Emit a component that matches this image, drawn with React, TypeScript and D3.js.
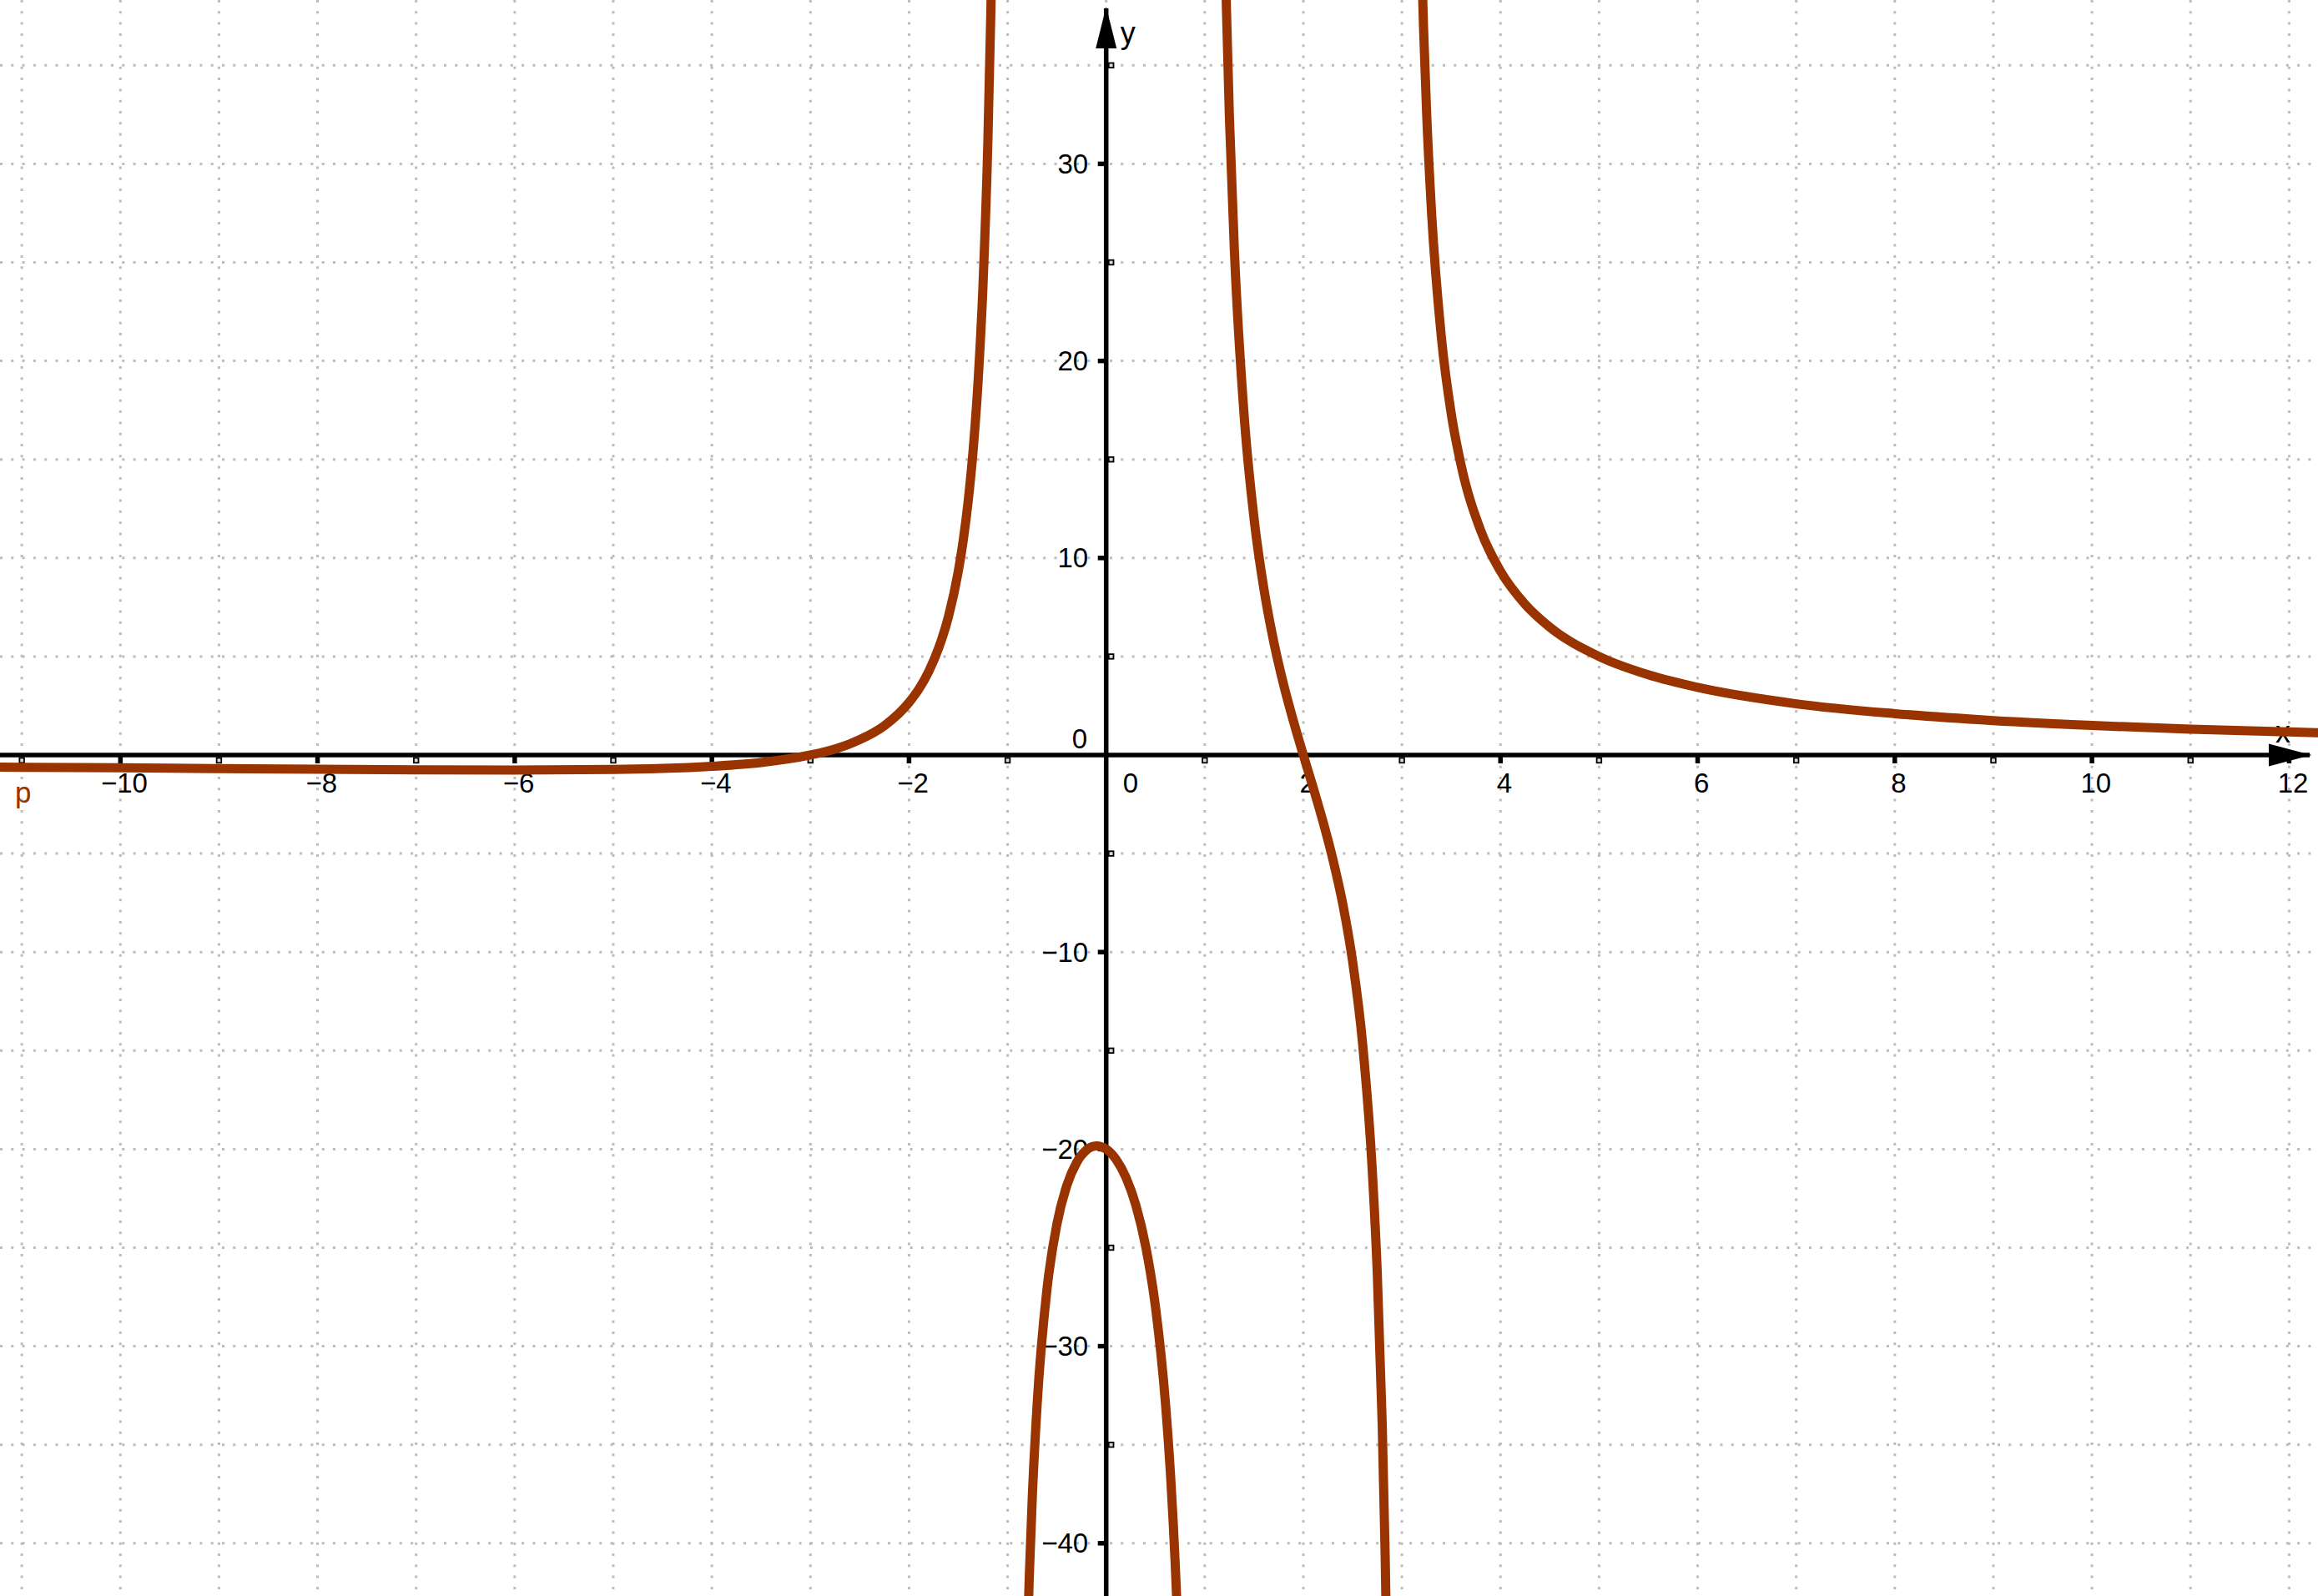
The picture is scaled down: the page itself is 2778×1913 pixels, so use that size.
import React from 'react';
import * as d3 from 'd3';

const width = 2778;
const height = 1913;

// p(x) (between the vertical asymptotes)
const branchLeft: [number, number][] = [
  [-11.3, -0.61], [-11, -0.62], [-10, -0.65], [-9, -0.69], [-8, -0.72], [-7, -0.75],
  [-6, -0.76], [-5, -0.73], [-4.5, -0.68], [-4, -0.57], [-3.5, -0.38], [-3, 0],
  [-2.75, 0.31], [-2.5, 0.78], [-2.25, 1.49], [-2, 2.67], [-1.9, 3.35], [-1.8, 4.24],
  [-1.7, 5.42], [-1.6, 7.02], [-1.5, 9.33], [-1.45, 10.9], [-1.4, 12.88], [-1.35, 15.45],
  [-1.3, 18.91], [-1.25, 23.79], [-1.2, 31.17], [-1.17, 37.71], [-1.15, 43.54],
];

const branchHump: [number, number][] = [
  [-0.85, -57.35], [-0.82, -49.12], [-0.8, -45.03], [-0.78, -41.69], [-0.75, -37.71],
  [-0.7, -32.91], [-0.6, -27.08], [-0.5, -23.81], [-0.4, -21.85], [-0.3, -20.68],
  [-0.2, -20.05], [-0.1, -19.84], [0, -20], [0.1, -20.52], [0.2, -21.43], [0.3, -22.83],
  [0.4, -24.91], [0.5, -28.0], [0.6, -32.81], [0.65, -36.31], [0.7, -41.01],
  [0.72, -43.37], [0.75, -47.62],
];

const branchMiddle: [number, number][] = [
  [1.15, 59.1], [1.18, 47.99], [1.2, 42.42], [1.22, 37.86], [1.25, 32.38], [1.3, 25.66],
  [1.4, 17.19], [1.5, 12.0], [1.6, 8.43], [1.7, 5.74], [1.8, 3.57], [1.9, 1.71], [2, 0],
  [2.1, -1.66], [2.2, -3.39], [2.3, -5.3], [2.4, -7.56], [2.5, -10.48], [2.6, -14.58],
  [2.7, -21.14], [2.75, -26.29], [2.8, -33.92], [2.83, -40.61], [2.85, -46.54],
];

const branchRight: [number, number][] = [
  [3.15, 52.84], [3.18, 44.46], [3.2, 40.26], [3.22, 36.82], [3.25, 32.68], [3.3, 27.6],
  [3.4, 21.21], [3.5, 17.33], [3.6, 14.72], [3.8, 11.38], [4, 9.33], [4.25, 7.65],
  [4.5, 6.49], [5, 5.0], [5.5, 4.07], [6, 3.43], [7, 2.6], [8, 2.1], [9, 1.75],
  [10, 1.5], [11, 1.31], [12, 1.17], [12.4, 1.12],
];

const branches = [branchLeft, branchHump, branchMiddle, branchRight];

const xGridValues = [-11, -10, -9, -8, -7, -6, -5, -4, -3, -2, -1, 0, 1, 2, 3, 4, 5, 6, 7, 8, 9, 10, 11, 12];
const yGridValues = [-40, -35, -30, -25, -20, -15, -10, -5, 0, 5, 10, 15, 20, 25, 30, 35];
const xTickLabels = [-10, -8, -6, -4, -2, 2, 4, 6, 8, 10, 12];
const yTickLabels = [-40, -30, -20, -10, 10, 20, 30];

const curveColor = '#993300';
const gridColor = '#bcbcbc';

export default function App() {
  const x = d3.scaleLinear().domain([-11.2214, 12.293]).range([0, width]);
  const y = d3.scaleLinear().domain([38.315, -42.676]).range([0, height]);
  const x0 = x(0);
  const y0 = y(0);
  const fmt = d3.format('d');

  const line = d3.line<[number, number]>()
    .x(d => x(d[0]))
    .y(d => y(d[1]))
    .curve(d3.curveMonotoneX);

  const xMinor = xGridValues.filter(v => v !== 0 && !xTickLabels.includes(v));
  const yMinor = yGridValues.filter(v => v !== 0 && !yTickLabels.includes(v));

  const axisW = 5.5;
  const font = '"Liberation Sans", Arial, sans-serif';

  return (
    <svg
      width={width}
      height={height}
      viewBox={`0 0 ${width} ${height}`}
      style={{ position: 'absolute', left: 0, top: 0, display: 'block', background: '#fff', fontFamily: font }}
    >
      <defs>
        <clipPath id="plot">
          <rect x={0} y={0} width={width} height={height} />
        </clipPath>
      </defs>
      <rect x={0} y={0} width={width} height={height} fill="#fff" />

      {/* dotted grid */}
      <g stroke={gridColor} strokeWidth={3} strokeDasharray="3 10.3">
        {xGridValues.map(v => (
          <line key={`gx${v}`} x1={x(v)} x2={x(v)} y1={0} y2={height} />
        ))}
        {yGridValues.map(v => (
          <line key={`gy${v}`} x1={0} x2={width} y1={y(v)} y2={y(v)} />
        ))}
      </g>

      {/* axes */}
      <g stroke="#000" strokeWidth={axisW}>
        <line x1={0} x2={width - 10} y1={y0} y2={y0} />
        <line x1={x0} x2={x0} y1={height} y2={10} />
        {xTickLabels.map(v => (
          <line key={`tx${v}`} x1={x(v)} x2={x(v)} y1={y0} y2={y0 + 10} />
        ))}
        {yTickLabels.map(v => (
          <line key={`ty${v}`} x1={x0 - 10} x2={x0} y1={y(v)} y2={y(v)} />
        ))}
      </g>
      <g stroke="#000" strokeWidth={1.8} fill="#d8d8d8">
        {xMinor.map(v => (
          <rect key={`mx${v}`} x={x(v) - 2.8} y={y0 + 3.5} width={5.6} height={5.8} />
        ))}
        {yMinor.map(v => (
          <rect key={`my${v}`} x={x0 + 3} y={y(v) - 2.8} width={5.8} height={5.6} />
        ))}
      </g>
      <polygon points={`${width - 8},${y0} ${width - 59},${y0 - 13.5} ${width - 59},${y0 + 13.5}`} fill="#000" />
      <polygon points={`${x0},8 ${x0 - 12.5},58 ${x0 + 12.5},58`} fill="#000" />

      {/* tick labels */}
      <g fontSize={33} fill="#000">
        {xTickLabels.map(v => (
          <text key={`lx${v}`} x={x(v) + 4.7} y={y0 + 45} textAnchor="middle">{fmt(v)}</text>
        ))}
        <text x={x0 + 20} y={y0 + 45} textAnchor="start">0</text>
        {yTickLabels.map(v => (
          <text key={`ly${v}`} x={x0 - 21.5} y={y(v) + 11.5} textAnchor="end">{fmt(v)}</text>
        ))}
        <text x={x0 - 22.5} y={y0 - 8} textAnchor="end">0</text>
      </g>
      <text x={x0 + 17} y={52} fontSize={36} fill="#000">y</text>
      <text x={width - 51} y={890} fontSize={36} fill="#000">x</text>
      <text x={18} y={962} fontSize={35} fill={curveColor}>p</text>

      {/* function graph */}
      <g clipPath="url(#plot)" fill="none" stroke={curveColor} strokeWidth={11} strokeLinejoin="round">
        {branches.map((b, i) => (
          <path key={i} d={line(b) ?? ''} />
        ))}
      </g>
    </svg>
  );
}
